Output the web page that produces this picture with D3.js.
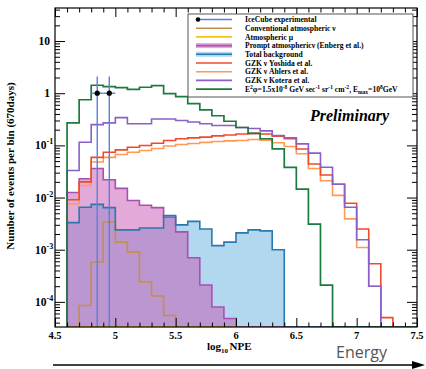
<!DOCTYPE html>
<html><head><meta charset="utf-8">
<script src="https://cdn.jsdelivr.net/npm/d3@7"></script>
<style>
html,body{margin:0;padding:0;background:#fff;}
svg{display:block;}
</style></head><body>
<svg id="c" width="426" height="369"></svg>
<script>
// ---------- data ----------
const binLow = [4.6,4.7,4.8,4.9,5.0,5.1,5.2,5.3,5.4,5.5,5.6,5.7,5.8,5.9,6.0,6.1,6.2,6.3,6.4,6.5,6.6,6.7,6.8,6.9,7.0,7.1,7.2,7.3,7.4];
const binWidth = 0.1;
const e2Flux   = [0.27,0.75,1.42,1.34,1.28,1.18,1.30,1.40,0.98,0.86,0.63,0.48,0.37,0.29,0.22,0.17,0.134,0.086,0.038,0.0145,0.0031,0.00021,0,0,0,0,0,0,0];
const kotera   = [0.033,0.115,0.25,0.27,0.34,0.26,0.26,0.32,0.32,0.30,0.28,0.26,0.24,0.24,0.22,0.21,0.19,0.155,0.14,0.107,0.071,0.038,0.018,0.0065,0.00155,0.0002,0,0,0];
const yoshida  = [0.0091,0.020,0.059,0.074,0.082,0.092,0.0995,0.11,0.124,0.134,0.139,0.144,0.152,0.158,0.165,0.17,0.165,0.15,0.134,0.085,0.044,0.027,0.018,0.0078,0.0025,0.00054,0.00005,0,0];
const ahlers   = [0.0076,0.017,0.048,0.059,0.067,0.074,0.08,0.087,0.097,0.104,0.109,0.114,0.119,0.122,0.124,0.13,0.126,0.112,0.095,0.069,0.036,0.021,0.011,0.0039,0.0011,0.0002,0,0,0];
const prompt   = [0.0125,0.023,0.036,0.022,0.015,0.0088,0.0071,0.0064,0.0042,0.0022,0.0007,0.00021,0.00008,0.000048,0,0,0,0,0,0,0,0,0,0,0,0,0,0,0];
const totalBg  = [0.0033,0.0065,0.0074,0.0064,0.0024,0.0024,0.0026,0.0026,0.0045,0.003,0.0035,0.0025,0.0012,0.0014,0.0021,0.0024,0.0023,0.001,0,0,0,0,0,0,0,0,0,0,0];
const convNu   = [0,0.000085,0.00058,0.0034,0.0014,0.0009,0.00024,0.00013,0.000055,0,0,0,0,0,0,0,0,0,0,0,0,0,0,0,0,0,0,0,0];
const atmMu    = [0,0,0,0,0,0,0,0,0,0,0,0,0,0,0,0,0,0,0,0,0,0,0,0,0,0,0,0,0];
const iceX     = [4.85,4.95];
const iceY     = [1,1];
const iceYHi   = [2.1,2.1];
const iceXErr  = [0.05,0.05];
const xTickVals   = [4.5,5,5.5,6,6.5,7,7.5];
const xTickLabels = ["4.5","5","5.5","6","6.5","7","7.5"];
const xMinorVals  = [4.6,4.7,4.8,4.9,5.1,5.2,5.3,5.4,5.6,5.7,5.8,5.9,6.1,6.2,6.3,6.4,6.6,6.7,6.8,6.9,7.1,7.2,7.3,7.4];
const yTickVals   = [10,1,0.1,0.01,0.001,0.0001];
const yTickBase   = ["10","1","10","10","10","10"];
const yTickExp    = ["","","-1","-2","-3","-4"];
const legendLabels = ["IceCube experimental","Conventional atmospheric \u03bd","Atmospheric \u03bc","Prompt atmospheric\u03bd (Enberg et al.)","Total background","GZK \u03bd Yoshida et al.","GZK \u03bd Ahlers et al.","GZK \u03bd Kotera et al.","E2FLUX"];

// ---------- layout ----------
const L=55,R=417,T=8,B=327;
const yMin=3.3e-5, yMax=43;
const x = d3.scaleLinear().domain([4.5,7.5]).range([L,R]);
const y = d3.scaleLog().domain([yMin,yMax]).range([B,T]).clamp(true);
const serif = "'Liberation Serif','Times New Roman',serif";
const svg = d3.select("#c");

svg.append("defs").append("clipPath").attr("id","clip")
  .append("rect").attr("x",L).attr("y",T).attr("width",R-L).attr("height",B-T);
const plot = svg.append("g").attr("clip-path","url(#clip)");

function steps(vals){
  const pts=[[binLow[0],0]];
  vals.forEach((v,i)=>{pts.push([binLow[i],v]);pts.push([binLow[i]+binWidth,v]);});
  pts.push([binLow[binLow.length-1]+binWidth,0]);
  return pts;
}
const yv = v => y(Math.max(v,yMin*0.5));
const line = d3.line().x(d=>x(d[0])).y(d=>yv(d[1]));
const area = d3.area().x(d=>x(d[0])).y0(B).y1(d=>yv(d[1]));

// fills
plot.append("path").attr("d",area(steps(totalBg))).attr("fill","rgb(99,177,223)").attr("fill-opacity",0.5);
plot.append("path").attr("d",area(steps(prompt))).attr("fill","rgb(199,83,179)").attr("fill-opacity",0.5);

const series = [
  {v:atmMu,c:"#f2c318",w:1.5},
  {v:convNu,c:"#c49048",w:1.6},
  {v:prompt,c:"#a950b0",w:1.6},
  {v:totalBg,c:"#2a78ad",w:1.6},
  {v:ahlers,c:"#ff9a55",w:1.6},
  {v:yoshida,c:"#f04a28",w:1.6},
  {v:kotera,c:"#8a60c8",w:1.6},
  {v:e2Flux,c:"#1c7a3e",w:1.7}
];
series.forEach(s=>{
  plot.append("path").attr("d",line(steps(s.v))).attr("fill","none")
    .attr("stroke",s.c).attr("stroke-width",s.w).attr("stroke-linejoin","miter");
});

// IceCube points
iceX.forEach((xv,i)=>{
  plot.append("line").attr("x1",x(xv)).attr("x2",x(xv)).attr("y1",y(iceYHi[i])).attr("y2",B)
    .attr("stroke","#5b7fd6").attr("stroke-width",1.4);
  plot.append("line").attr("x1",x(xv-iceXErr[i])).attr("x2",x(xv+iceXErr[i])).attr("y1",y(iceY[i])).attr("y2",y(iceY[i]))
    .attr("stroke","#5b7fd6").attr("stroke-width",1.4);
  plot.append("circle").attr("cx",x(xv)).attr("cy",y(iceY[i])).attr("r",2.6).attr("fill","#000");
});

// axes ticks (inward)
function styleAxis(g){ g.select(".domain").remove(); g.selectAll("line").attr("stroke","#000").attr("stroke-width",1); g.selectAll("text").remove(); }
svg.append("g").attr("transform",`translate(0,${B})`).call(d3.axisBottom(x).tickValues(xTickVals).tickSize(-9)).call(styleAxis);
svg.append("g").attr("transform",`translate(0,${B})`).call(d3.axisBottom(x).tickValues(xMinorVals).tickSize(-4.5)).call(styleAxis);
svg.append("g").attr("transform",`translate(0,${T})`).call(d3.axisTop(x).tickValues(xTickVals).tickSize(-9)).call(styleAxis);
svg.append("g").attr("transform",`translate(0,${T})`).call(d3.axisTop(x).tickValues(xMinorVals).tickSize(-4.5)).call(styleAxis);
const yMinor = [];
[-5,-4,-3,-2,-1,0,1].forEach(p=>{[2,3,4,5,6,7,8,9].forEach(m=>{const v=m*Math.pow(10,p); if(v>yMin&&v<yMax) yMinor.push(v);});});
svg.append("g").attr("transform",`translate(${L},0)`).call(d3.axisLeft(y).tickValues(yTickVals).tickSize(-10)).call(styleAxis);
svg.append("g").attr("transform",`translate(${L},0)`).call(d3.axisLeft(y).tickValues(yMinor).tickSize(-5)).call(styleAxis);
svg.append("g").attr("transform",`translate(${R},0)`).call(d3.axisRight(y).tickValues(yTickVals).tickSize(-10)).call(styleAxis);
svg.append("g").attr("transform",`translate(${R},0)`).call(d3.axisRight(y).tickValues(yMinor).tickSize(-5)).call(styleAxis);

svg.append("rect").attr("x",L).attr("y",T).attr("width",R-L).attr("height",B-T)
  .attr("fill","none").attr("stroke","#000").attr("stroke-width",1.2);

// tick labels
xTickVals.forEach((v,i)=>{
  svg.append("text").attr("x",x(v)).attr("y",339).attr("text-anchor","middle")
    .attr("font-family",serif).attr("font-weight","bold").attr("font-size",10.5).text(xTickLabels[i]);
});
yTickVals.forEach((v,i)=>{
  const t = svg.append("text").attr("y",y(v)+4).attr("font-family",serif).attr("font-weight","bold").attr("font-size",11.5);
  if(yTickExp[i]){
    t.attr("x",35);
    t.append("tspan").text(yTickBase[i]);
    t.append("tspan").attr("dy",-5).attr("font-size",8).text(yTickExp[i]);
  } else {
    t.attr("x",50).attr("text-anchor","end").text(yTickBase[i]);
  }
});

// axis titles
svg.append("text").attr("transform","translate(14,166) rotate(-90)").attr("text-anchor","middle")
  .attr("font-family",serif).attr("font-weight","bold").attr("font-size",11).text("Number of events per bin (670days)");
const xt = svg.append("text").attr("x",207).attr("y",350).attr("font-family",serif).attr("font-weight","bold").attr("font-size",11);
xt.append("tspan").text("log");
xt.append("tspan").attr("dy",3).attr("font-size",7).text("10");
xt.append("tspan").attr("dy",-3).attr("dx",1.5).text("NPE");

// Preliminary
svg.append("text").attr("x",310).attr("y",121).attr("font-family",serif).attr("font-weight","bold")
  .attr("font-style","italic").attr("font-size",16).text("Preliminary");

// legend
const lg = svg.append("g");
lg.append("rect").attr("x",188).attr("y",14).attr("width",225).attr("height",83).attr("fill","#fff").attr("stroke","#555").attr("stroke-width",1);
const legendColors = ["#5b7fd6","#c49048","#f2c318","#a950b0","#2a78ad","#f04a28","#ff9a55","#8a60c8","#1c7a3e"];
legendLabels.forEach((lab,i)=>{
  const cy = 19.5 + i*8.7;
  if(i===3){ lg.append("rect").attr("x",196).attr("y",cy-2.5).attr("width",36).attr("height",5).attr("fill","rgb(227,169,217)"); }
  if(i===4){ lg.append("rect").attr("x",196).attr("y",cy-2.5).attr("width",36).attr("height",5).attr("fill","rgb(177,216,239)"); }
  lg.append("line").attr("x1",196).attr("x2",232).attr("y1",cy).attr("y2",cy).attr("stroke",legendColors[i]).attr("stroke-width",1.6);
  if(i===0){ lg.append("circle").attr("cx",198).attr("cy",cy).attr("r",2.3).attr("fill","#000"); }
  const t = lg.append("text").attr("x",245).attr("y",cy+2.6).attr("font-family",serif).attr("font-weight","bold").attr("font-size",7.6);
  if(lab==="E2FLUX"){
    const parts=[["E",0],["2",1],["\u03c6=1.5x10",0],["-8",1],[" GeV sec",0],["-1",1],[" sr",0],["-1",1],[" cm",0],["-2",1],[", E",0],["max",2],["=10",0],["8",1],["GeV",0]];
    let state=0;
    parts.forEach(p=>{
      const ts=t.append("tspan").text(p[0]);
      let target = p[1]===1?-3:(p[1]===2?2:0);
      ts.attr("dy",target-state); state=target;
      if(p[1]!==0) ts.attr("font-size",5.5);
    });
  } else {
    t.text(lab);
  }
});

// Energy arrow
svg.append("text").attr("x",336).attr("y",358).attr("font-family","'Open Sans',sans-serif")
  .attr("font-size",16).attr("fill","#555").text("Energy");
svg.append("line").attr("x1",53).attr("x2",414).attr("y1",365).attr("y2",365).attr("stroke","#000").attr("stroke-width",1.4);
svg.append("path").attr("d","M412,361 L425,365 L412,369 Z").attr("fill","#000");
</script>
</body></html>
